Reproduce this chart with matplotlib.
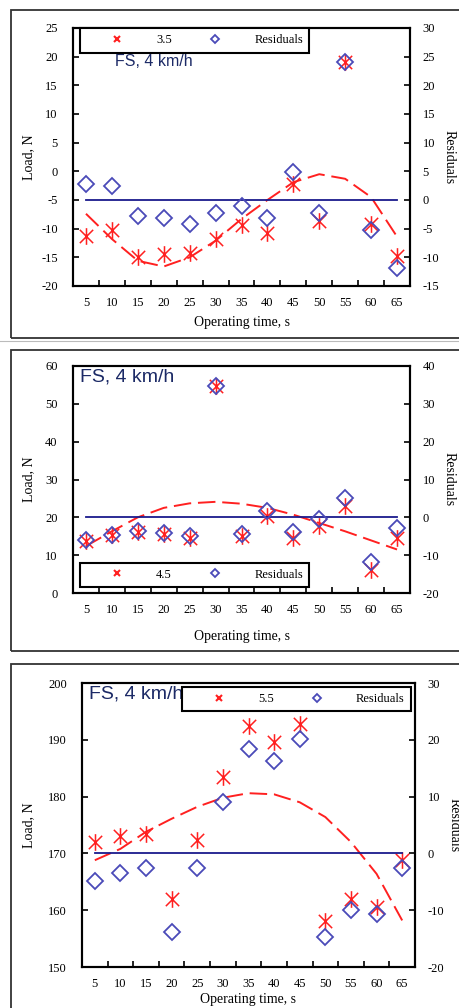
import numpy as np
import matplotlib
matplotlib.use('Agg')
import matplotlib.pyplot as plt
from matplotlib.path import Path
from matplotlib.lines import Line2D
from matplotlib.patches import Rectangle

# Data
times = [5, 10, 15, 20, 25, 30, 35, 40, 45, 50, 55, 60, 65]

load_35 = [-11.2, -10.3, -14.9, -14.5, -14.2, -11.8, -9.3, -10.8, -2.2, -8.6, 19.1, -9.2, -14.7]
resid_35 = [2.85, 2.4, -2.8, -3.1, -4.1, -2.3, -1.0, -3.1, 4.9, -2.2, 24.0, -5.2, -11.8]
trend_35 = [-7.4, -11.8, -15.6, -16.6, -15.0, -12.1, -8.3, -5.0, -1.9, -0.5, -1.3, -4.5, -11.4]

load_45 = [13.7, 15.4, 16.2, 15.7, 14.6, 54.7, 15.0, 20.3, 14.6, 17.7, 22.9, 6.2, 14.6]
resid_45 = [-5.9, -4.8, -3.7, -4.1, -4.9, 34.7, -4.4, 1.6, -3.9, -0.4, 5.1, -11.7, -2.8]
trend_45 = [12.4, 16.3, 20.0, 22.5, 23.7, 24.1, 23.6, 22.5, 20.7, 18.5, 16.3, 13.9, 11.5]

load_55 = [172.0, 173.1, 173.5, 162.0, 172.3, 183.5, 192.4, 189.6, 192.8, 158.1, 162.0, 160.6, 168.9]
resid_55 = [-4.9, -3.5, -2.5, -13.9, -2.5, 9.0, 18.3, 16.3, 20.1, -14.7, -10.0, -10.7, -2.5]
trend_55 = [168.8, 170.8, 173.8, 176.1, 178.2, 179.8, 180.6, 180.4, 179.0, 176.4, 172.0, 166.4, 158.2]

plt.rcParams['axes.unicode_minus'] = False

# Asterisk marker: x with a vertical bar
star = Path([(-1, -1), (1, 1), (-1, 1), (1, -1), (0, -1.25), (0, 1.25)],
            [Path.MOVETO, Path.LINETO, Path.MOVETO, Path.LINETO, Path.MOVETO, Path.LINETO])

RED = '#ff2020'
BLUE = '#4a4ab8'
NAVY = '#1a1a8c'
SERIF = ['Liberation Serif', 'DejaVu Serif']
SANS = ['Liberation Sans', 'DejaVu Sans']

fig = plt.figure(figsize=(4.59, 10.08), dpi=100)
W, H = 459.0, 1008.0


def frac(x0, y0, x1, y1):
    # pixel box -> figure fraction [left, bottom, width, height]
    return [x0 / W, 1 - y1 / H, (x1 - x0) / W, (y1 - y0) / H]


# Outer frames of each sub-picture
for (y0, y1) in [(10, 338), (350, 651), (664, 1030)]:
    fig.patches.append(Rectangle((11 / W, 1 - y1 / H), 1.0, (y1 - y0) / H,
                                 transform=fig.transFigure, fill=False,
                                 edgecolor='#333333', linewidth=1.3))
fig.add_artist(Line2D([0, 1], [1 - 341 / H, 1 - 341 / H], transform=fig.transFigure,
                      color='#bbbbbb', linewidth=0.8))

panels = [
    dict(box=(73, 28, 410, 286), load=load_35, resid=resid_35, trend=trend_35, name='3.5',
         ylim=(-20, 25), ystep=5, rlim=(-15, 30), rstep=5,
         legend=dict(loc='upper left', bbox=(0.02, 1.0)),
         fs=dict(x=0.125, y=0.9, size=11.5), xpad=5, ypad=4),
    dict(box=(73, 366, 410, 593), load=load_45, resid=resid_45, trend=trend_45, name='4.5',
         ylim=(0, 60), ystep=10, rlim=(-20, 40), rstep=10,
         legend=dict(loc='lower left', bbox=(0.02, 0.026)),
         fs=dict(x=0.02, y=0.99, size=14), xpad=10, ypad=7),
    dict(box=(82, 683, 415, 967), load=load_55, resid=resid_55, trend=trend_55, name='5.5',
         ylim=(150, 200), ystep=10, rlim=(-20, 30), rstep=10,
         legend=dict(loc='upper right', bbox=(0.988, 0.986)),
         fs=dict(x=0.02, y=0.99, size=14), xpad=2, ypad=9),
]

x = np.arange(1, len(times) + 1)

for p in panels:
    ax = fig.add_axes(frac(*p['box']))
    ax2 = ax.twinx()

    # Trend line and load values
    ax.plot(x, p['trend'], color=RED, linestyle=(0, (9, 3.5)), linewidth=1.4, zorder=2)
    ax.plot(x, p['load'], linestyle='none', marker=star, markersize=12,
            markeredgecolor=RED, markeredgewidth=1.1, zorder=3)

    # Residual baseline and residuals
    ax2.plot(x, [0] * len(x), color=NAVY, linewidth=1.3, zorder=2)
    ax2.plot(x, p['resid'], linestyle='none', marker='D', markersize=8.5,
             markerfacecolor='none', markeredgecolor=BLUE, markeredgewidth=1.3, zorder=3)

    ax.set_xlim(0.5, len(x) + 0.5)
    ax.set_ylim(*p['ylim'])
    ax2.set_ylim(*p['rlim'])
    ax.set_yticks(np.arange(p['ylim'][0], p['ylim'][1] + 0.1, p['ystep']))
    ax2.set_yticks(np.arange(p['rlim'][0], p['rlim'][1] + 0.1, p['rstep']))

    # Category axis: labels at centres, ticks between categories
    ax.set_xticks(x)
    ax.set_xticklabels([str(t) for t in times])
    ax.set_xticks(np.arange(0.5, len(x) + 1), minor=True)
    ax.tick_params(axis='x', which='major', length=0, pad=8)
    ax.tick_params(axis='x', which='minor', direction='in', length=4, width=1.2)
    ax.tick_params(axis='y', direction='in', length=4, width=1.2, pad=11)
    ax2.tick_params(axis='y', direction='in', length=4, width=1.2, pad=9)

    for a in (ax, ax2):
        for lab in a.get_xticklabels() + a.get_yticklabels():
            lab.set_family(SERIF)
            lab.set_fontsize(9)
        for s in a.spines.values():
            s.set_linewidth(1.5)

    ax.set_ylabel('Load, N', family=SERIF, fontsize=10, labelpad=p['ypad'])
    ax.set_xlabel('Operating time, s', family=SERIF, fontsize=10, labelpad=p['xpad'])
    ax2.set_ylabel('Residuals', family=SERIF, fontsize=10, rotation=270, labelpad=12)

    ax.text(p['fs']['x'], p['fs']['y'], 'FS, 4 km/h', transform=ax.transAxes,
            family=SANS, fontsize=p['fs']['size'], color='#1c2a66', va='top', ha='left',
            zorder=5)

    handles = [Line2D([], [], linestyle='none', marker='x', markersize=5,
                      markeredgecolor=RED, markeredgewidth=1.5),
               Line2D([], [], linestyle='none', marker='D', markersize=4,
                      markerfacecolor='none', markeredgecolor=BLUE, markeredgewidth=1.3)]
    leg = ax2.legend(handles, [p['name'], 'Residuals'], ncol=2, loc=p['legend']['loc'],
                     bbox_to_anchor=p['legend']['bbox'], frameon=True, fancybox=False,
                     edgecolor='black', framealpha=1, borderpad=0.5, borderaxespad=0,
                     handlelength=5, handletextpad=0.6, columnspacing=1.0,
                     prop={'family': SERIF, 'size': 9})
    leg.get_frame().set_linewidth(1.5)
    leg.set_zorder(10)

fig.savefig('out.png', dpi=100)
